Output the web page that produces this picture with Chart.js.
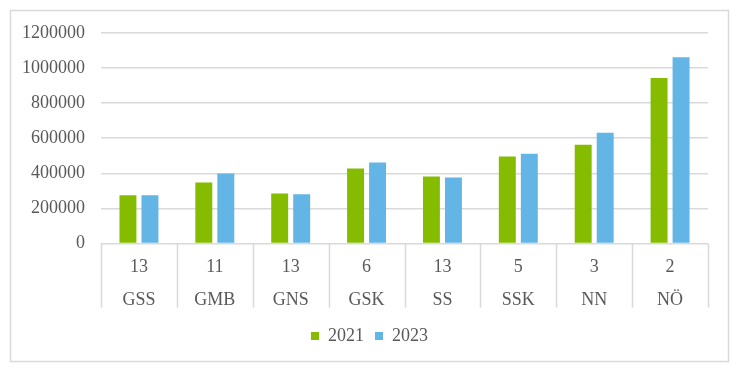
<!DOCTYPE html>
<html>
<head>
<meta charset="utf-8">
<script src="https://cdn.jsdelivr.net/npm/chart.js@4"></script>
<style>
  html, body { margin: 0; padding: 0; background: #fff; }
  #wrap { width: 739px; height: 373px; }
</style>
</head>
<body>
<div id="wrap"><canvas id="groupChart" width="739" height="373"></canvas></div>
<script>
// chart data
const groups = ['GSS', 'GMB', 'GNS', 'GSK', 'SS', 'SSK', 'NN', 'NÖ'];
const counts = ['13', '11', '13', '6', '13', '5', '3', '2'];
const values2021 = [274000, 348000, 285000, 427000, 382000, 495000, 563000, 943000];
const values2023 = [274000, 399000, 280000, 461000, 376000, 512000, 631000, 1062000];

const gridColor = '#D9D9D9';
const textColor = '#595959';
const serif = "'Liberation Serif', 'Times New Roman', serif";

// frame round the whole chart + separators under the category axis
const framePlugin = {
  id: 'frame',
  beforeDraw(chart) {
    const ctx = chart.ctx;
    ctx.save();
    ctx.strokeStyle = gridColor;
    ctx.lineWidth = 1.5;
    ctx.strokeRect(10.5, 10.5, 718, 351);
    ctx.restore();
  },
  afterDraw(chart) {
    const ctx = chart.ctx;
    const x = chart.scales.x;
    const top = chart.chartArea.bottom;
    ctx.save();
    ctx.strokeStyle = gridColor;
    ctx.lineWidth = 1.5;
    ctx.beginPath();
    for (let i = 0; i <= groups.length; i++) {
      const px = Math.round(x.getPixelForValue(i - 0.5)) + 0.5;
      ctx.moveTo(px, top);
      ctx.lineTo(px, top + 64);
    }
    ctx.stroke();
    ctx.restore();
  }
};

const ctxGroup = document.getElementById('groupChart').getContext('2d');
const groupChart = new Chart(ctxGroup, {
  type: 'bar',
  data: {
    labels: groups.map((g, i) => [counts[i], g]),
    datasets: [
      { label: '2021', data: values2021, backgroundColor: '#86BC00' },
      { label: '2023', data: values2023, backgroundColor: '#62B5E5' }
    ]
  },
  options: {
    responsive: false,
    animation: false,
    layout: { padding: { left: 0, right: 0, top: 33, bottom: 18 } },
    datasets: { bar: { categoryPercentage: 0.58, barPercentage: 0.77 } },
    plugins: {
      legend: {
        position: 'bottom',
        labels: {
          boxWidth: 8, boxHeight: 8, padding: 11,
          color: textColor,
          font: { family: serif, size: 18 }
        }
      },
      tooltip: { enabled: false }
    },
    scales: {
      x: {
        grid: { display: false },
        border: { display: false },
        ticks: {
          color: textColor,
          padding: -1,
          maxRotation: 0,
          font: { family: serif, size: 18, lineHeight: 1.85 }
        }
      },
      y: {
        min: 0,
        max: 1200000,
        afterFit: scale => { scale.width = 101; },
        grid: { color: gridColor, lineWidth: 1.5, drawTicks: false },
        border: { display: false },
        ticks: {
          stepSize: 200000,
          padding: 16,
          color: textColor,
          font: { family: serif, size: 18 },
          callback: value => String(value)
        }
      },
      // empty right margin so the legend centres on the whole page
      spacer: {
        type: 'linear',
        position: 'right',
        afterFit: scale => { scale.width = 31; },
        grid: { display: false },
        border: { display: false },
        ticks: { display: false }
      }
    }
  },
  plugins: [framePlugin]
});
</script>
</body>
</html>
